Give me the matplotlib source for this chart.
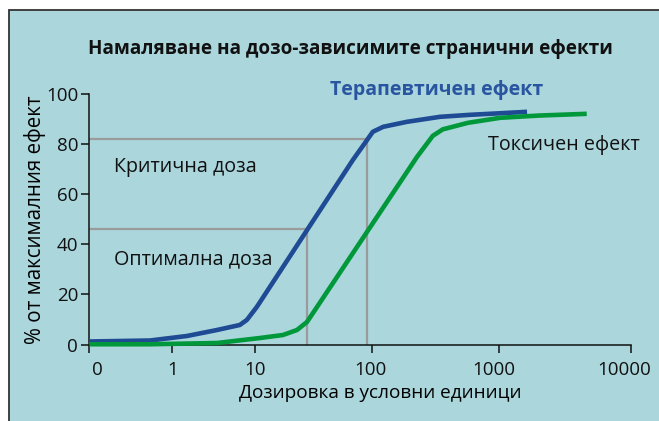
import matplotlib
matplotlib.use("Agg")
import matplotlib.pyplot as plt
import numpy as np
from matplotlib.patches import Rectangle
from matplotlib.transforms import ScaledTranslation

plt.rcParams['font.family'] = ['Open Sans', 'DejaVu Sans']

# tick values on the dose axis (0 is drawn at 0.1) and their labels
dose_ticks = [0.1, 1, 10, 100, 1000, 10000]
dose_labels = ['0', '1', '10', '100', '1000', '10000']
# the decades are not evenly spaced in the original: relative widths
decade_pos = [0, 83, 166, 282.4, 409.7, 541.7]

effect_ticks = [0, 20, 40, 60, 80, 100]

# therapeutic effect curve
ther_dose = [0.1, 0.54, 1.5, 3.46, 6.5, 7.9, 10.3, 69, 87.7, 102, 123, 189, 344, 591, 1000, 1630]
ther_eff = [1.2, 1.6, 3.4, 5.8, 7.8, 9.8, 15, 73.8, 80.6, 85, 87, 89, 91, 91.8, 92.4, 93.0]

# toxic effect curve
tox_dose = [0.1, 0.54, 3.46, 11, 17.3, 22.8, 27.8, 33.9, 227, 302, 362, 570, 1019, 2000, 4620]
tox_eff = [0.1, 0.1, 0.6, 2.6, 3.8, 5.8, 9, 15, 75, 83.4, 86, 88.6, 90.6, 91.5, 92.2]

# critical / optimal dose markers
crit_dose, crit_eff = 90.6, 82
opt_dose, opt_eff = 27.7, 46

title = 'Намаляване на дозо-зависимите странични ефекти'
xlabel = 'Дозировка в условни единици'
ylabel = '% от максималния ефект'

bg = '#aad6dc'
blue = '#1f4a94'
green = '#00983a'
grey = '#9b9b9b'

logs = np.log10(dose_ticks)


def fwd(x):
    x = np.asarray(x, dtype=float)
    return np.interp(np.log10(np.clip(x, 1e-6, None)), logs, decade_pos)


def inv(p):
    return 10 ** np.interp(p, decade_pos, logs)


fig = plt.figure(figsize=(6.59, 4.21), dpi=100)
fig.patch.set_facecolor('white')
fig.patches.append(Rectangle((9 / 659, -0.01), 1.0, 1 - 10 / 421 + 0.01,
                             transform=fig.transFigure, facecolor=bg,
                             edgecolor='#333333', linewidth=1.3, zorder=-1))

ax = fig.add_axes([89.3 / 659, 1 - 344.5 / 421, (631 - 89.3) / 659, (344.5 - 94.3) / 421])
ax.set_zorder(2)
ax.set_facecolor('none')
ax.set_xscale('function', functions=(fwd, inv))
ax.set_xlim(dose_ticks[0], dose_ticks[-1])
ax.set_ylim(0, 100)

ax.plot([dose_ticks[0], crit_dose, crit_dose], [crit_eff, crit_eff, 0],
        color=grey, lw=1.6, zorder=1)
ax.plot([dose_ticks[0], opt_dose, opt_dose], [opt_eff, opt_eff, 0],
        color=grey, lw=1.6, zorder=1)

ax.plot(ther_dose, ther_eff, color=blue, lw=3.3, solid_capstyle='butt',
        solid_joinstyle='round', clip_on=False, zorder=3)
ax.plot(tox_dose, tox_eff, color=green, lw=3.3, solid_capstyle='butt',
        solid_joinstyle='round', clip_on=False, zorder=4)

ax.set_xticks(dose_ticks)
ax.set_xticklabels(dose_labels)
ax.xaxis.set_minor_locator(plt.NullLocator())
ax.set_yticks(effect_ticks)
for s in ['top', 'right']:
    ax.spines[s].set_visible(False)
for s in ['left', 'bottom']:
    ax.spines[s].set_linewidth(1.1)
    ax.spines[s].set_color('#111111')
ax.tick_params(axis='both', direction='out', length=6, width=1.1,
               color='#111111', labelsize=13.5, labelcolor='#111111')
ax.tick_params(axis='x', pad=6)
ax.tick_params(axis='y', pad=2)

# the outer x labels sit a little off their ticks in the original
shifts = [8, 0, 0, -1, -5, -7]
for lab, dx in zip(ax.get_xticklabels(), shifts):
    lab.set_transform(lab.get_transform() + ScaledTranslation(dx / 100, 0, fig.dpi_scale_trans))

ax.set_xlabel(xlabel, fontsize=13.7)
ax.xaxis.set_label_coords((380 - 89.3) / (631 - 89.3), -(393 - 344.5) / (344.5 - 94.3))
ax.xaxis.label.set_va('center')
ax.set_ylabel(ylabel, fontsize=14.8, labelpad=0)

fig.text(350 / 659, 1 - 49 / 421, title, fontsize=13.6, fontweight='bold',
         ha='center', va='center', color='#111111')
fig.text(330 / 659, 1 - 90 / 421, 'Терапевтичен ефект', fontsize=14,
         fontweight='bold', color='#2a55a0', ha='left', va='center')
fig.text(488 / 659, 1 - 145 / 421, 'Токсичен ефект', fontsize=14.2,
         ha='left', va='center', color='#111111')
fig.text(114 / 659, 1 - 167 / 421, 'Критична доза', fontsize=14.2,
         ha='left', va='center', color='#111111')
fig.text(114 / 659, 1 - 259 / 421, 'Оптимална доза', fontsize=14.2,
         ha='left', va='center', color='#111111')

fig.savefig('out.png', dpi=100)
